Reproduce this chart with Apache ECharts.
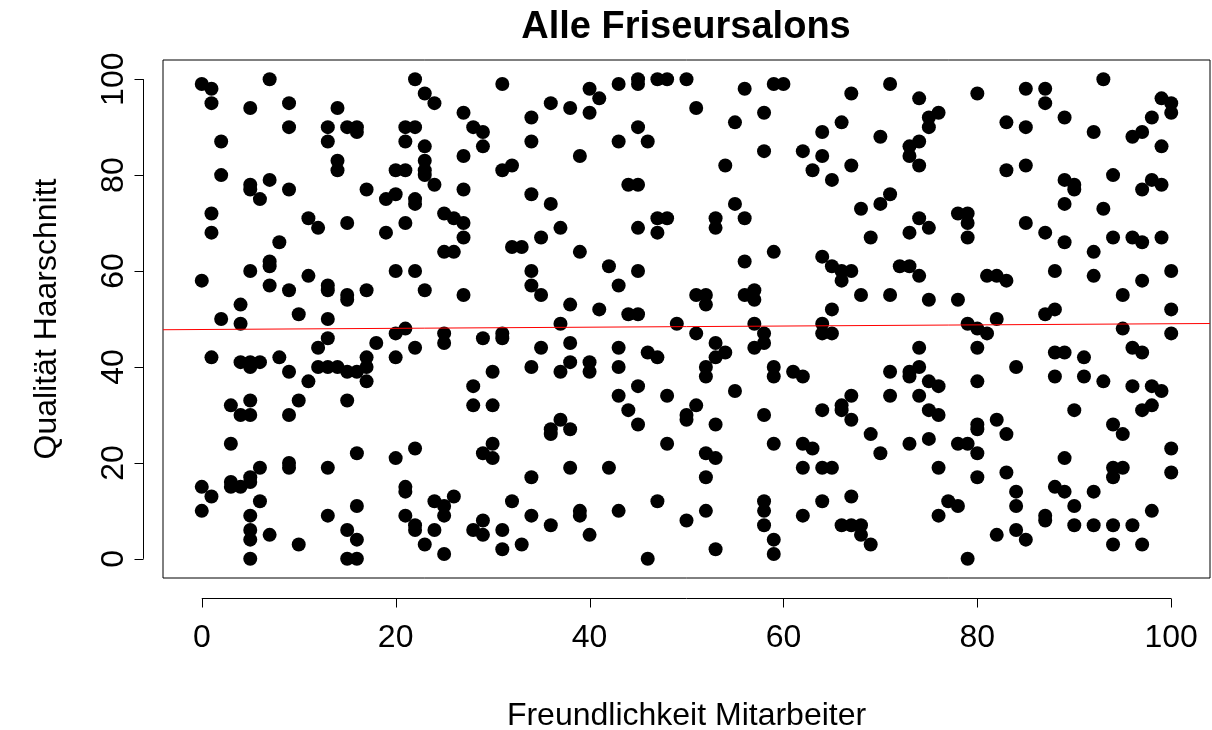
<!DOCTYPE html>
<html><head><meta charset="utf-8">
<script src="https://cdn.jsdelivr.net/npm/echarts@6/dist/echarts.min.js"></script>
<style>html,body{margin:0;padding:0;background:#fff}#chart{width:1212px;height:730px}</style>
</head><body><div id="chart"></div>
<script>
const chartTitle = 'Alle Friseursalons';
const xAxisTitle = 'Freundlichkeit Mitarbeiter';
const yAxisTitle = 'Qualität Haarschnitt';
const tickValues = [0, 20, 40, 60, 80, 100];
const axisRange = [-4, 104];
// regression line (abline): [x, y] at the plot edges
const regressionLine = [[-4, 47.76], [104, 49.06]];
// [Freundlichkeit Mitarbeiter, Qualität Haarschnitt]
const salons = [
[0,99],[0,58],[0,15],[0,10],
[1,98],[1,95],[1,72],[1,68],[1,42],[1,13],
[2,87],[2,80],[2,50],
[3,32],[3,24],[3,16],[3,15],
[4,53],[4,49],[4,41],[4,30],[4,15],
[5,94],[5,78],[5,77],[5,60],[5,41],[5,40],[5,33],[5,30],[5,17],[5,16],[5,9],[5,6],[5,4],[5,0],
[6,75],[6,41],[6,19],[6,12],
[7,100],[7,79],[7,62],[7,61],[7,57],[7,5],
[8,66],[8,42],
[9,95],[9,90],[9,77],[9,56],[9,39],[9,30],[9,20],[9,19],
[10,51],[10,33],[10,3],
[11,71],[11,59],[11,37],
[12,69],[12,44],[12,40],
[13,90],[13,87],[13,57],[13,56],[13,50],[13,46],[13,40],[13,19],[13,9],
[14,94],[14,83],[14,81],[14,40],
[15,90],[15,70],[15,55],[15,54],[15,39],[15,33],[15,6],[15,0],
[16,90],[16,89],[16,39],[16,22],[16,11],[16,4],[16,0],
[17,77],[17,56],[17,42],[17,40],[17,37],
[18,45],
[19,75],[19,68],
[20,81],[20,76],[20,60],[20,47],[20,42],[20,21],
[21,90],[21,87],[21,81],[21,70],[21,48],[21,15],[21,14],[21,9],
[22,100],[22,90],[22,75],[22,74],[22,60],[22,44],[22,23],[22,7],[22,6],
[23,97],[23,86],[23,83],[23,81],[23,80],[23,56],[23,3],
[24,95],[24,78],[24,12],[24,6],
[25,72],[25,64],[25,47],[25,45],[25,11],[25,9],[25,1],
[26,71],[26,64],[26,13],
[27,93],[27,84],[27,77],[27,70],[27,67],[27,55],
[28,90],[28,36],[28,32],[28,6],
[29,89],[29,86],[29,46],[29,22],[29,8],[29,5],
[30,39],[30,32],[30,24],[30,21],
[31,99],[31,81],[31,47],[31,46],[31,6],[31,2],
[32,82],[32,65],[32,12],
[33,65],[33,3],
[34,92],[34,87],[34,76],[34,60],[34,57],[34,40],[34,17],[34,9],
[35,67],[35,55],[35,44],
[36,95],[36,74],[36,27],[36,26],[36,7],
[37,69],[37,49],[37,39],[37,29],
[38,94],[38,53],[38,45],[38,41],[38,27],[38,19],
[39,84],[39,64],[39,10],[39,9],
[40,98],[40,93],[40,41],[40,39],[40,5],
[41,96],[41,52],
[42,61],[42,19],
[43,99],[43,87],[43,57],[43,44],[43,40],[43,34],[43,10],
[44,78],[44,51],[44,31],
[45,100],[45,99],[45,90],[45,78],[45,69],[45,60],[45,51],[45,36],[45,28],
[46,87],[46,43],[46,0],
[47,100],[47,71],[47,68],[47,42],[47,12],
[48,100],[48,71],[48,34],[48,24],
[49,49],
[50,100],[50,30],[50,29],[50,8],
[51,94],[51,55],[51,47],[51,32],
[52,55],[52,53],[52,40],[52,38],[52,22],[52,17],[52,10],
[53,71],[53,69],[53,45],[53,42],[53,28],[53,21],[53,2],
[54,82],[54,43],
[55,91],[55,74],[55,35],
[56,98],[56,71],[56,62],[56,55],
[57,56],[57,54],[57,49],[57,44],
[58,93],[58,85],[58,47],[58,45],[58,30],[58,12],[58,10],[58,7],
[59,99],[59,64],[59,40],[59,38],[59,24],[59,4],[59,1],
[60,99],
[61,39],
[62,85],[62,38],[62,24],[62,19],[62,9],
[63,81],[63,23],
[64,89],[64,84],[64,63],[64,49],[64,47],[64,31],[64,19],[64,12],
[65,79],[65,61],[65,52],[65,47],[65,19],
[66,91],[66,60],[66,58],[66,32],[66,31],[66,7],
[67,97],[67,82],[67,60],[67,34],[67,29],[67,13],[67,7],
[68,73],[68,55],[68,7],[68,5],
[69,67],[69,26],[69,3],
[70,88],[70,74],[70,22],
[71,99],[71,76],[71,55],[71,39],[71,34],
[72,61],
[73,86],[73,84],[73,68],[73,61],[73,39],[73,38],[73,24],
[74,96],[74,87],[74,82],[74,71],[74,59],[74,44],[74,40],[74,34],
[75,92],[75,90],[75,69],[75,54],[75,37],[75,31],[75,25],
[76,93],[76,36],[76,30],[76,19],[76,9],
[77,12],
[78,72],[78,54],[78,24],[78,11],
[79,72],[79,70],[79,67],[79,49],[79,24],[79,0],
[80,97],[80,48],[80,44],[80,37],[80,28],[80,27],[80,22],[80,17],
[81,59],[81,47],
[82,59],[82,50],[82,29],[82,5],
[83,91],[83,81],[83,58],[83,26],[83,18],
[84,40],[84,14],[84,11],[84,6],
[85,98],[85,90],[85,82],[85,70],[85,4],
[87,98],[87,95],[87,68],[87,51],[87,9],[87,8],
[88,60],[88,52],[88,43],[88,38],[88,15],
[89,92],[89,79],[89,74],[89,66],[89,43],[89,21],[89,14],
[90,78],[90,77],[90,31],[90,11],[90,7],
[91,42],[91,38],
[92,89],[92,64],[92,59],[92,14],[92,7],
[93,100],[93,73],[93,37],
[94,80],[94,67],[94,28],[94,19],[94,17],[94,7],[94,3],
[95,55],[95,48],[95,26],[95,19],
[96,88],[96,67],[96,44],[96,36],[96,7],
[97,89],[97,77],[97,66],[97,58],[97,43],[97,31],[97,3],
[98,92],[98,79],[98,36],[98,32],[98,10],
[99,96],[99,86],[99,78],[99,67],[99,35],
[100,95],[100,93],[100,60],[100,52],[100,47],[100,23],[100,18]
];

const FONT = '"Liberation Sans", Arial, sans-serif';
const AXIS_OFFSET = 20;
const TICK_LEN = 9;

const chart = echarts.init(document.getElementById('chart'), null, {renderer: 'canvas'});
chart.setOption({
  animation: false,
  backgroundColor: '#fff',
  textStyle: {fontFamily: FONT},
  title: {
    text: chartTitle, left: 686, top: 9, padding: 0, textAlign: 'center',
    textStyle: {fontFamily: FONT, fontSize: 38, fontWeight: 'bold', color: '#000'}
  },
  grid: {
    left: 163, right: 2, top: 60, bottom: 152,
    outerBoundsMode: 'none', containLabel: false,
    show: true, borderColor: '#000', borderWidth: 1, backgroundColor: 'transparent'
  },
  xAxis: {
    type: 'value', min: axisRange[0], max: axisRange[1], offset: AXIS_OFFSET,
    splitLine: {show: false},
    axisLine: {show: false},
    axisTick: {show: false},
    axisLabel: {customValues: tickValues, fontSize: 32, color: '#000', fontFamily: FONT, margin: 24},
    name: xAxisTitle, nameLocation: 'middle', nameGap: 102,
    nameTextStyle: {fontSize: 32, color: '#000', fontFamily: FONT}
  },
  yAxis: {
    type: 'value', min: axisRange[0], max: axisRange[1], offset: AXIS_OFFSET,
    splitLine: {show: false},
    axisLine: {show: false},
    axisTick: {show: false},
    axisLabel: {customValues: tickValues, fontSize: 32, color: '#000', fontFamily: FONT, rotate: 90, margin: 13},
    name: yAxisTitle, nameLocation: 'middle', nameGap: 80, nameRotate: 90,
    nameTextStyle: {fontSize: 32, color: '#000', fontFamily: FONT}
  },
  series: [
    {
      type: 'custom', silent: true, clip: false, z: 1,
      data: [[0, 0]],
      renderItem: function (params, api) {
        const cs = params.coordSys;
        const first = tickValues[0], last = tickValues[tickValues.length - 1];
        const x0 = api.coord([first, 0])[0];
        const x1 = api.coord([last, 0])[0];
        const y0 = api.coord([0, first])[1];
        const y1 = api.coord([0, last])[1];
        const by = Math.round(cs.y + cs.height + AXIS_OFFSET) + 0.5;
        const lx = Math.round(cs.x - AXIS_OFFSET) + 0.5;
        const st = {stroke: '#000', lineWidth: 1};
        const children = [
          {type: 'line', shape: {x1: x0, y1: by, x2: x1, y2: by}, style: st},
          {type: 'line', shape: {x1: lx, y1: y0, x2: lx, y2: y1}, style: st}
        ];
        tickValues.forEach(function (v) {
          const tx = Math.round(api.coord([v, 0])[0]) + 0.5;
          const ty = Math.round(api.coord([0, v])[1]) + 0.5;
          children.push({type: 'line', shape: {x1: tx, y1: by, x2: tx, y2: by + TICK_LEN}, style: st});
          children.push({type: 'line', shape: {x1: lx, y1: ty, x2: lx - TICK_LEN, y2: ty}, style: st});
        });
        return {type: 'group', children: children};
      }
    },
    {
      type: 'scatter', data: salons, symbol: 'circle', symbolSize: 14,
      itemStyle: {color: '#000', opacity: 1}, z: 2
    },
    {
      type: 'line', data: regressionLine, symbol: 'none', z: 3,
      lineStyle: {color: '#ff0000', width: 1}
    }
  ]
});
</script>
</body></html>
